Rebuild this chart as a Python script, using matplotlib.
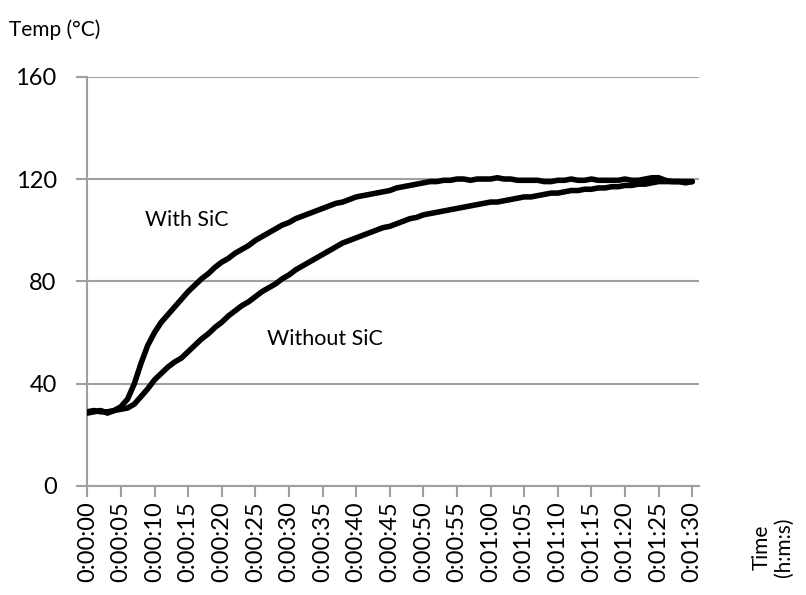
import matplotlib
matplotlib.use("Agg")
import matplotlib.pyplot as plt

plt.rcParams['font.family'] = ['Lato', 'DejaVu Sans']

time_s = list(range(0, 91))
with_sic = [29, 29.5, 29, 29, 29.5, 31, 34, 40, 48, 55,
            60, 64, 67, 70, 73, 76, 78.5, 81, 83, 85.5,
            87.5, 89, 91, 92.5, 94, 96, 97.5, 99, 100.5, 102,
            103, 104.5, 105.5, 106.5, 107.5, 108.5, 109.5, 110.5, 111, 112,
            113, 113.5, 114, 114.5, 115, 115.5, 116.5, 117, 117.5, 118,
            118.5, 119, 119, 119.5, 119.5, 120, 120, 119.5, 120, 120,
            120, 120.5, 120, 120, 119.5, 119.5, 119.5, 119.5, 119, 119,
            119.5, 119.5, 120, 119.5, 119.5, 120, 119.5, 119.5, 119.5, 119.5,
            120, 119.5, 119.5, 120, 120.5, 120.5, 119.5, 119, 119, 118.5,
            119]
without_sic = [28.5, 29, 29.5, 28.5, 29.5, 30, 30.5, 32, 35, 38,
               41.5, 44, 46.5, 48.5, 50, 52.5, 55, 57.5, 59.5, 62,
               64, 66.5, 68.5, 70.5, 72, 74, 76, 77.5, 79, 81,
               82.5, 84.5, 86, 87.5, 89, 90.5, 92, 93.5, 95, 96,
               97, 98, 99, 100, 101, 101.5, 102.5, 103.5, 104.5, 105,
               106, 106.5, 107, 107.5, 108, 108.5, 109, 109.5, 110, 110.5,
               111, 111, 111.5, 112, 112.5, 113, 113, 113.5, 114, 114.5,
               114.5, 115, 115.5, 115.5, 116, 116, 116.5, 116.5, 117, 117,
               117.5, 117.5, 118, 118, 118.5, 119, 119, 119, 119, 119,
               119]
tick_pos = list(range(0, 91, 5))
tick_labels = ["0:%02d:%02d" % (t // 60, t % 60) for t in tick_pos]
y_ticks = [0, 40, 80, 120, 160]

fig = plt.figure(figsize=(8.06, 5.95), dpi=100)
ax = fig.add_axes([0.1083, 0.1832, 0.7589, 0.6879])

grid_c = '#a0a0a0'
for y in y_ticks:
    ax.axhline(y, color=grid_c, lw=1.5, zorder=1)

ax.plot(time_s, with_sic, color='black', lw=4, solid_capstyle='round', zorder=3)
ax.plot(time_s, without_sic, color='black', lw=4, solid_capstyle='round', zorder=3)

ax.set_xlim(0, 91)
ax.set_ylim(0, 160)
ax.set_xticks(tick_pos)
ax.set_xticklabels(tick_labels, rotation=90, fontsize=17)
ax.set_yticks(y_ticks)
ax.set_yticklabels([str(v) for v in y_ticks], fontsize=17)
for s in ['top', 'right']:
    ax.spines[s].set_visible(False)
for s in ['left', 'bottom']:
    ax.spines[s].set_color(grid_c)
    ax.spines[s].set_linewidth(1.5)
ax.tick_params(axis='both', direction='out', length=8, width=1.5, color=grid_c)
ax.tick_params(axis='x', pad=3)
ax.tick_params(axis='y', pad=14)

ax.text(8.6, 104, "With SiC", fontsize=15.3, va='center', ha='left')
ax.text(26.7, 57.6, "Without SiC", fontsize=15.5, va='center', ha='left')

fig.text(9 / 806, 1 - 30 / 595, "Temp (°C)", fontsize=15, va='center', ha='left')
fig.text(773 / 806, 1 - 547 / 595, "Time\n(h:m:s)", fontsize=15, rotation=90,
         va='center', ha='center', multialignment='center', linespacing=1.1)

fig.savefig("out.png", dpi=100)
